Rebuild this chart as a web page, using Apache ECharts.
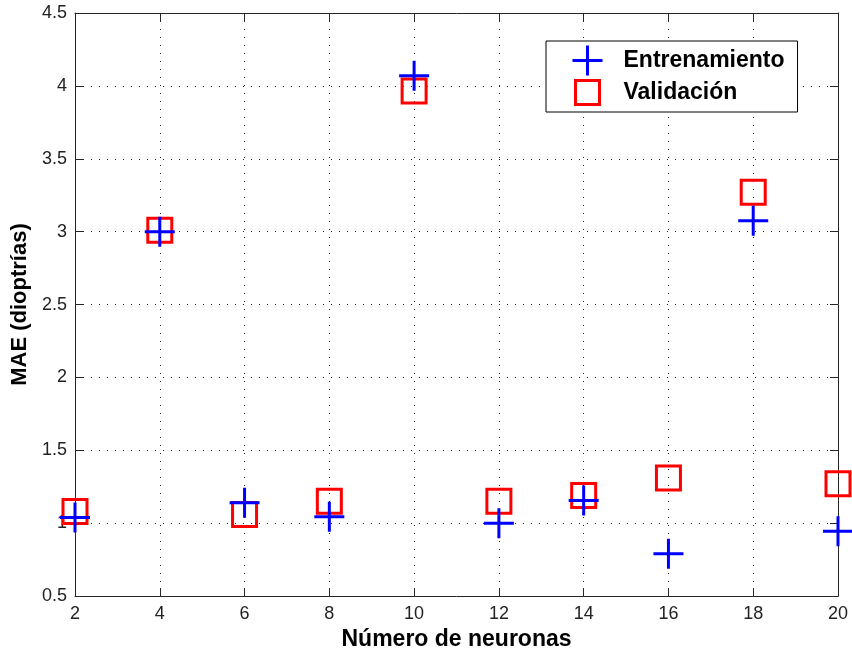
<!DOCTYPE html>
<html>
<head>
<meta charset="utf-8">
<script src="https://cdn.jsdelivr.net/npm/echarts@6/dist/echarts.min.js"></script>
<style>
  html, body { margin: 0; padding: 0; background: #fff; }
  #chart { width: 852px; height: 656px; }
</style>
</head>
<body>
<div id="chart"></div>
<script>
// Number of hidden neurons tested
const neurons = [2, 4, 6, 8, 10, 12, 14, 16, 18, 20];
// Mean absolute error (dioptres) on the training set
const trainMAE = [1.04, 3.00, 1.14, 1.045, 4.07, 1.00, 1.155, 0.79, 3.075, 0.945];
// Mean absolute error (dioptres) on the validation set
const validMAE = [1.08, 3.01, 1.06, 1.15, 3.965, 1.15, 1.19, 1.31, 3.27, 1.27];

const FONT = "'Liberation Sans', Arial, Helvetica, sans-serif";
const AXIS_COLOR = '#262626';
const PLUS = 'path://M0,-15L0,15M-15,0L15,0';
// legend icons carry extra move points so the icon sits left with room before the text
const PLUS_ICON = 'path://M-15,-15M31,15M0,-15L0,15M-15,0L15,0';
const SQUARE_ICON = 'path://M-15,-15M31,15M-12,-12L12,-12L12,12L-12,12Z';

const toPoints = (ys) => neurons.map((x, i) => [x, ys[i]]);

const gridLine = { show: true, lineStyle: { color: '#222', width: 1, type: [1, 7] } };

const chart = echarts.init(document.getElementById('chart'), null, { renderer: 'canvas' });
chart.setOption({
  backgroundColor: '#fff',
  animation: false,
  grid: { left: 75, right: 14, top: 13, bottom: 56, containLabel: false },
  legend: {
    orient: 'vertical',
    left: 546,
    top: 41,
    padding: [2, 13, 2, 24],
    itemGap: -3,
    itemWidth: 46,
    itemHeight: 30,
    borderColor: '#000',
    borderWidth: 1,
    backgroundColor: '#fff',
    selectedMode: false,
    textStyle: { fontFamily: FONT, fontSize: 23, fontWeight: 'bold', color: '#000' },
    data: [
      { name: 'Entrenamiento', icon: PLUS_ICON,
        itemStyle: { color: 'none', borderColor: '#0000ff', borderWidth: 3 } },
      { name: 'Validación', icon: SQUARE_ICON,
        itemStyle: { color: 'none', borderColor: '#ff0000', borderWidth: 3 } }
    ]
  },
  xAxis: [
    {
      type: 'value', min: 2, max: 20, interval: 2,
      name: 'Número de neuronas', nameLocation: 'middle', nameGap: 28,
      nameTextStyle: { fontFamily: FONT, fontSize: 23, fontWeight: 'bold', color: '#000' },
      axisLine: { show: true, lineStyle: { color: AXIS_COLOR, width: 1 } },
      axisTick: { show: true, inside: true, length: 8, lineStyle: { color: AXIS_COLOR } },
      axisLabel: { fontFamily: FONT, fontSize: 18, color: '#222', margin: 9 },
      splitLine: gridLine
    },
    {
      type: 'value', min: 2, max: 20, interval: 2, position: 'top',
      axisLine: { show: true, lineStyle: { color: AXIS_COLOR, width: 1 } },
      axisTick: { show: true, inside: true, length: 8, lineStyle: { color: AXIS_COLOR } },
      axisLabel: { show: false },
      splitLine: { show: false }
    }
  ],
  yAxis: [
    {
      type: 'value', min: 0.5, max: 4.5, interval: 0.5,
      name: 'MAE (dioptrías)', nameLocation: 'middle', nameGap: 44,
      nameTextStyle: { fontFamily: FONT, fontSize: 22, fontWeight: 'bold', color: '#000' },
      axisLine: { show: true, lineStyle: { color: AXIS_COLOR, width: 1 } },
      axisTick: { show: true, inside: true, length: 8, lineStyle: { color: AXIS_COLOR } },
      axisLabel: { fontFamily: FONT, fontSize: 18, color: '#222', margin: 8 },
      splitLine: gridLine
    },
    {
      type: 'value', min: 0.5, max: 4.5, interval: 0.5, position: 'right',
      axisLine: { show: true, lineStyle: { color: AXIS_COLOR, width: 1 } },
      axisTick: { show: true, inside: true, length: 8, lineStyle: { color: AXIS_COLOR } },
      axisLabel: { show: false },
      splitLine: { show: false }
    }
  ],
  series: [
    {
      name: 'Validación', type: 'scatter', clip: false,
      symbol: 'rect', symbolSize: 24,
      itemStyle: { color: 'none', borderColor: '#ff0000', borderWidth: 3, opacity: 1 },
      data: toPoints(validMAE)
    },
    {
      name: 'Entrenamiento', type: 'scatter', clip: false,
      symbol: PLUS, symbolSize: 30,
      itemStyle: { color: 'none', borderColor: '#0000ff', borderWidth: 3, opacity: 1 },
      data: toPoints(trainMAE)
    }
  ]
});
</script>
</body>
</html>
